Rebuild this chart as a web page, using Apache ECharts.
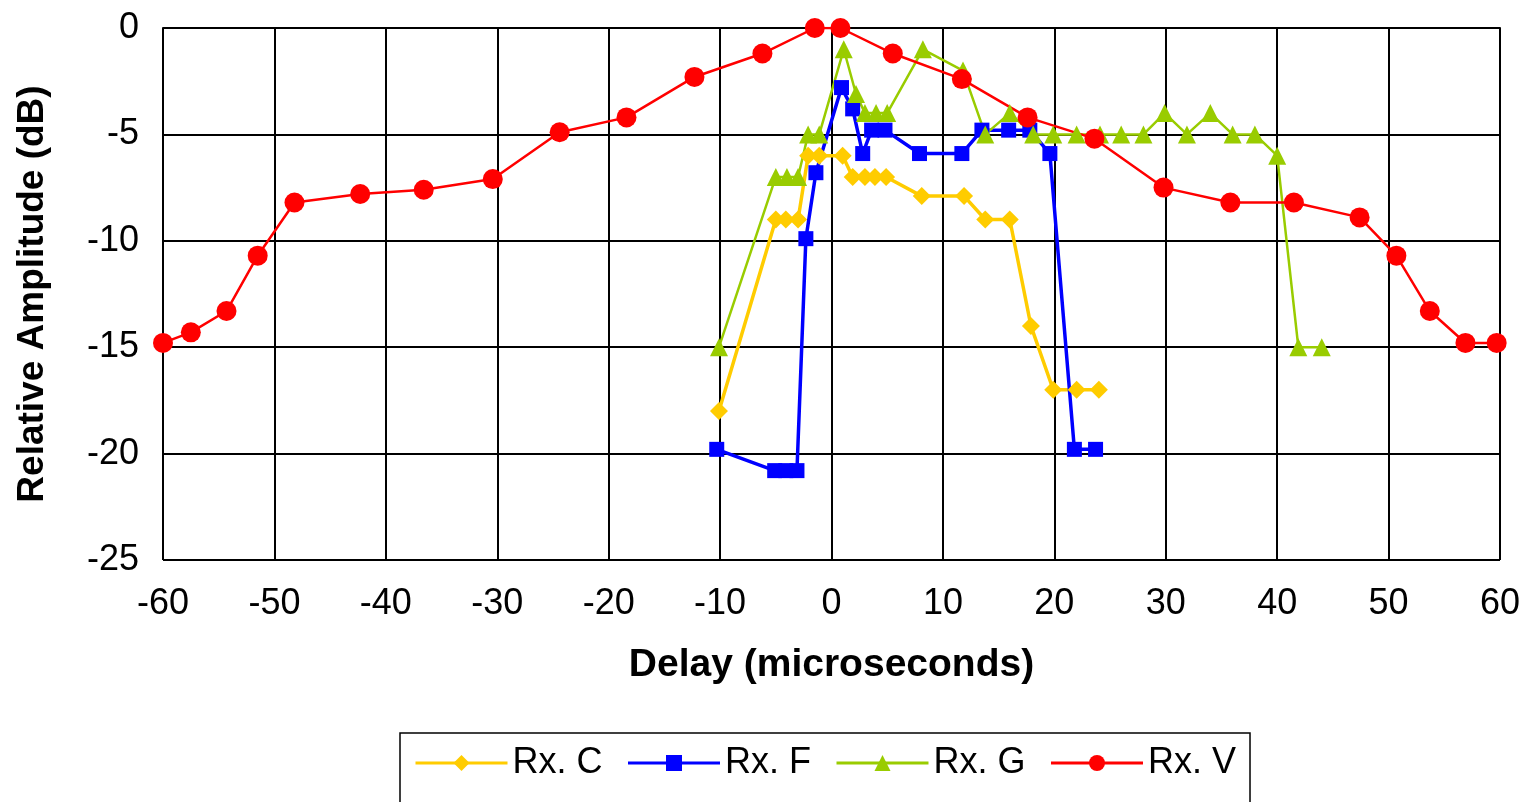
<!DOCTYPE html>
<html>
<head>
	<meta charset="utf-8">
	<title>Relative Amplitude vs Delay</title>
	<script type="text/javascript" src="https://cdn.jsdelivr.net/npm/echarts@6/dist/echarts.min.js"></script>
	<style type="text/css">
		html,body{margin:0;padding:0;background:#fff;}
		#main{width:1524px;height:802px;}
	</style>
</head>
<body>
<div id="main"></div>
<script type="text/javascript">
	// Rx. C (yellow diamonds)
	var rxCX = [-10.1, -5.0, -4.1, -3.0, -2.1, -1.1, 1.0, 1.9, 3.0, 3.9, 4.9, 8.1, 11.9, 13.8, 16.0, 17.9, 19.9, 22.0, 24.0];
	var rxCY = [-18, -9, -9, -9, -6, -6, -6, -7, -7, -7, -7, -7.9, -7.9, -9, -9, -14, -17, -17, -17];
	// Rx. F (blue squares)
	var rxFX = [-10.3, -5.1, -4.1, -3.1, -2.3, -1.4, 0.9, 1.9, 2.8, 3.6, 4.8, 7.9, 11.7, 13.5, 15.9, 17.8, 19.6, 21.8, 23.7];
	var rxFY = [-19.8, -20.8, -20.8, -20.8, -9.9, -6.8, -2.8, -3.8, -5.9, -4.8, -4.8, -5.9, -5.9, -4.8, -4.8, -4.8, -5.9, -19.8, -19.8];
	// Rx. G (green triangles)
	var rxGX = [-10.1, -5.0, -4.0, -3.0, -2.1, -1.1, 1.1, 2.2, 3.0, 4.0, 5.0, 8.2, 11.8, 13.8, 16.0, 18.1, 19.9, 22.0, 24.1, 26.0, 28.0, 29.9, 31.9, 34.0, 36.0, 38.0, 40.0, 41.9, 44.0];
	var rxGY = [-15, -7, -7, -7, -5, -5, -1, -3.1, -4, -4, -4, -1, -2, -5, -4, -5, -5, -5, -5, -5, -5, -4, -5, -4, -5, -5, -6, -15, -15];
	// Rx. V (red circles)
	var rxVX = [-60, -57.5, -54.3, -51.5, -48.2, -42.3, -36.6, -30.4, -24.4, -18.4, -12.3, -6.2, -1.5, 0.8, 5.5, 11.7, 17.6, 23.6, 29.8, 35.8, 41.5, 47.4, 50.7, 53.7, 56.9, 59.7];
	var rxVY = [-14.8, -14.3, -13.3, -10.7, -8.2, -7.8, -7.6, -7.1, -4.9, -4.2, -2.3, -1.2, 0, 0, -1.2, -2.4, -4.2, -5.2, -7.5, -8.2, -8.2, -8.9, -10.7, -13.3, -14.8, -14.8];

	function pairs(xs, ys){
		var out = [];
		for(var i=0;i<xs.length;i++){
			out.push([xs[i], ys[i]]);
		}
		return out;
	}

	var font = 'Liberation Sans, Arial, sans-serif';

	var myChart = echarts.init(document.getElementById("main"));

	var option = {
		animation: false,
		grid: {
			left: 163,
			right: 24,
			top: 28,
			bottom: 242
		},
		legend: {
			left: 400,
			top: 733,
			padding: [12, 14, 40, 14],
			borderColor: '#000',
			borderWidth: 1.5,
			itemWidth: 92,
			itemHeight: 20,
			itemGap: 24,
			lineStyle: {width: 3},
			textStyle: {
				fontFamily: font,
				fontSize: 36,
				color: '#000'
			},
			data: ['Rx. C', 'Rx. F', 'Rx. G', 'Rx. V']
		},
		xAxis: {
			type: 'value',
			min: -60,
			max: 60,
			interval: 10,
			name: 'Delay (microseconds)',
			nameLocation: 'middle',
			nameGap: 86,
			nameTextStyle: {
				fontFamily: font,
				fontSize: 39,
				fontWeight: 'bold',
				color: '#000'
			},
			axisLine: {lineStyle: {color: '#000', width: 2}},
			axisTick: {show: true, length: 6, lineStyle: {color: '#000', width: 1.5}},
			axisLabel: {
				margin: 26,
				fontFamily: font,
				fontSize: 36,
				color: '#000'
			},
			splitLine: {show: true, lineStyle: {color: '#000', width: 2}}
		},
		yAxis: {
			type: 'value',
			min: -25,
			max: 0,
			interval: 5,
			name: 'Relative Amplitude (dB)',
			nameLocation: 'middle',
			nameGap: 112,
			nameTextStyle: {
				fontFamily: font,
				fontSize: 37,
				fontWeight: 'bold',
				color: '#000'
			},
			axisLine: {show: true, lineStyle: {color: '#000', width: 2}},
			axisTick: {show: true, length: 6, lineStyle: {color: '#000', width: 1.5}},
			axisLabel: {
				margin: 24,
				fontFamily: font,
				fontSize: 36,
				color: '#000'
			},
			splitLine: {show: true, lineStyle: {color: '#000', width: 2}}
		},
		series: [{
			name: 'Rx. C',
			type: 'line',
			symbol: 'diamond',
			symbolSize: 18,
			itemStyle: {color: '#FFCC00'},
			lineStyle: {color: '#FFCC00', width: 3.5},
			data: pairs(rxCX, rxCY)
		},{
			name: 'Rx. F',
			type: 'line',
			symbol: 'rect',
			symbolSize: 15,
			itemStyle: {color: '#0000FF'},
			lineStyle: {color: '#0000FF', width: 3.5},
			data: pairs(rxFX, rxFY)
		},{
			name: 'Rx. G',
			type: 'line',
			symbol: 'triangle',
			symbolSize: 18,
			itemStyle: {color: '#99CC00'},
			lineStyle: {color: '#99CC00', width: 2.5},
			data: pairs(rxGX, rxGY)
		},{
			name: 'Rx. V',
			type: 'line',
			symbol: 'circle',
			symbolSize: 20,
			itemStyle: {color: '#FF0000'},
			lineStyle: {color: '#FF0000', width: 2.5},
			data: pairs(rxVX, rxVY)
		}]
	};

	myChart.setOption(option);
</script>
</body>
</html>
